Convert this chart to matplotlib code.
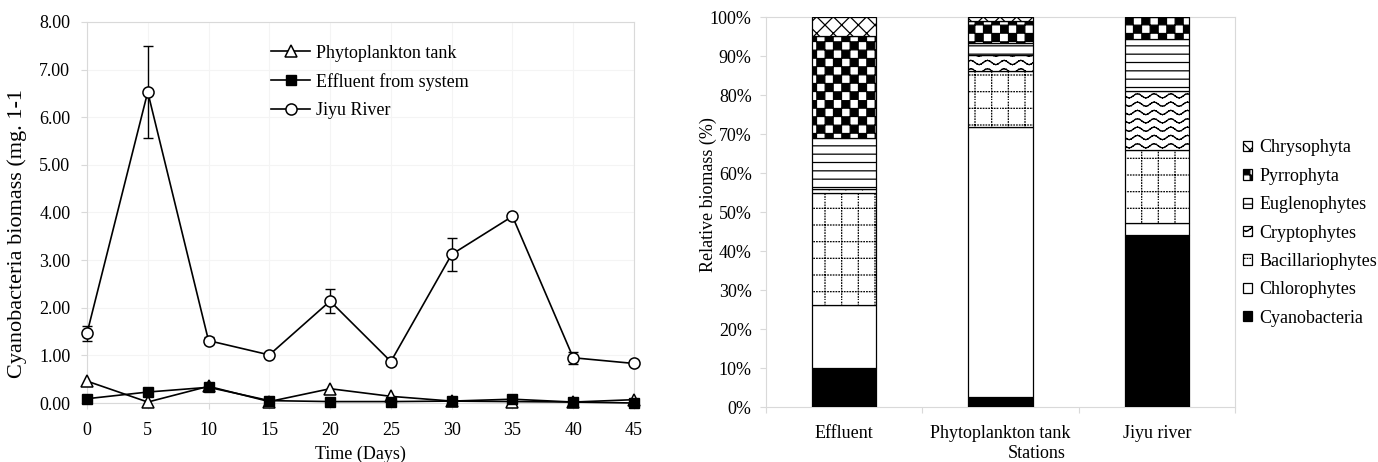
import warnings
import numpy as np
import matplotlib
matplotlib.use('Agg')
import matplotlib.pyplot as plt
from matplotlib import hatch as mhatch
from matplotlib.path import Path

warnings.filterwarnings('ignore')

# ---- left panel: cyanobacteria biomass over time
days = [0, 5, 10, 15, 20, 25, 30, 35, 40, 45]
phyto_tank = [0.46, 0.02, 0.35, 0.03, 0.30, 0.14, 0.04, 0.03, 0.02, 0.07]
effluent = [0.09, 0.23, 0.33, 0.05, 0.03, 0.03, 0.04, 0.08, 0.02, 0.00]
jiyu = [1.46, 6.53, 1.31, 1.01, 2.14, 0.87, 3.12, 3.92, 0.95, 0.83]
jiyu_err = [0.15, 0.97, 0.08, 0.04, 0.26, 0.08, 0.34, 0.03, 0.13, 0.03]

# ---- right panel: relative biomass by station (%)
stations = ['Effluent', 'Phytoplankton tank', 'Jiyu river']
groups = ['Cyanobacteria', 'Chlorophytes', 'Bacillariophytes', 'Cryptophytes',
          'Euglenophytes', 'Pyrrophyta', 'Chrysophyta']
cyanobacteria = [10.0, 2.5, 44.0]
chlorophytes = [16.2, 69.4, 3.3]
bacillariophytes = [28.8, 14.3, 18.6]
cryptophytes = [0.9, 4.1, 15.2]
euglenophytes = [13.2, 3.1, 13.2]
pyrrophyta = [26.0, 5.7, 5.7]
chrysophyta = [4.9, 0.9, 0.0]


# extra hatch patterns (excel style fills): checker, wave, dotted grid
class CheckerHatch(mhatch.HatchPatternBase):
    def __init__(self, hatch, density):
        self.cells = hatch.count('c') * 12
        self.num_vertices = (self.cells * self.cells // 2) * 5

    def set_vertices_and_codes(self, vertices, codes):
        n = self.cells
        s = 1.0 / n
        e = 0.02 * s
        sq = np.array([[e, e], [s - e, e], [s - e, s - e], [e, s - e], [e, e]])
        parts = [sq + [i * s, j * s] for i in range(n) for j in range(n) if (i + j) % 2 == 0]
        vertices[:] = np.concatenate(parts)
        c = [Path.MOVETO, Path.LINETO, Path.LINETO, Path.LINETO, Path.CLOSEPOLY]
        codes[:] = np.tile(c, len(parts))


class WaveHatch(mhatch.HatchPatternBase):
    def __init__(self, hatch, density):
        self.rows = hatch.count('w') * 12
        self.seg = 48
        self.num_vertices = self.rows * self.seg * 2

    def set_vertices_and_codes(self, vertices, codes):
        xs = np.linspace(0, 1, self.seg + 1)
        ys = 0.021 * np.sin(2 * np.pi * 6 * xs)
        segs = []
        for r in range(self.rows):
            off = (r + 0.5) / self.rows
            for k in range(self.seg):
                segs.append([[xs[k], ys[k] + off], [xs[k + 1], ys[k + 1] + off]])
        vertices[:] = np.array(segs).reshape(-1, 2)
        codes[:] = np.tile([Path.MOVETO, Path.LINETO], len(segs))


class DottedGridHatch(mhatch.HatchPatternBase):
    def __init__(self, hatch, density):
        self.lines = hatch.count('d') * 6
        self.dots = hatch.count('d') * 36
        self.num_vertices = 2 * self.lines * self.dots * 2

    def set_vertices_and_codes(self, vertices, codes):
        pos = (np.arange(self.lines) + 0.5) / max(self.lines, 1)
        t = np.arange(self.dots) / max(self.dots, 1)
        d = 0.005
        segs = []
        for p in pos:
            for q in t:
                segs.append([[q, p], [q + d, p]])
                segs.append([[p, q], [p, q + d]])
        vertices[:] = np.array(segs).reshape(-1, 2)
        codes[:] = np.tile([Path.MOVETO, Path.LINETO], len(segs))


mhatch._hatch_types.extend([CheckerHatch, WaveHatch, DottedGridHatch])

plt.rcParams['font.family'] = ['Liberation Serif', 'DejaVu Serif']
plt.rcParams['hatch.linewidth'] = 0.9
plt.rcParams['font.size'] = 13

frame = '#d9d9d9'
fs = 13

fig = plt.figure(figsize=(13.78, 4.62), dpi=100)
ax1 = fig.add_axes([0.0631, 0.1277, 0.3970, 0.8247])
ax2 = fig.add_axes([0.5559, 0.1190, 0.3403, 0.8442])

# ---- left panel
ax1.grid(True, color='#f4f4f4', lw=0.8)
ax1.set_axisbelow(True)
ax1.plot(days, phyto_tank, '-^', color='black', mfc='white', mec='black', ms=8,
         mew=1.1, lw=1.2, label='Phytoplankton tank', clip_on=False, zorder=3)
ax1.plot(days, effluent, '-s', color='black', mfc='black', ms=7, lw=1.2,
         label='Effluent from system', clip_on=False, zorder=4)
ax1.errorbar(days, jiyu, yerr=jiyu_err, fmt='none', ecolor='black', elinewidth=1.0,
             capsize=3.6, capthick=1.0, clip_on=False, zorder=5)
ax1.plot(days, jiyu, '-o', color='black', mfc='white', mec='black', ms=8, mew=1.1,
         lw=1.2, label='Jiyu River', clip_on=False, zorder=6)

ax1.set_xlim(0, 45)
ax1.set_ylim(0, 8)
ax1.set_xticks(days)
ax1.set_yticks(np.arange(0, 9, 1))
ax1.set_yticklabels([f'{v:.2f}' for v in np.arange(0, 9, 1)])
for s in ax1.spines.values():
    s.set_color(frame)
    s.set_linewidth(0.8)
ax1.tick_params(axis='both', color=frame, length=4, width=0.8, labelsize=fs)
ax1.tick_params(axis='y', pad=8)
ax1.tick_params(axis='x', pad=10)
ax1.set_xlabel('Time (Days)', fontsize=fs)
ax1.xaxis.set_label_coords(0.5, -0.113)
ax1.set_ylabel('Cyanobacteria biomass (mg. 1-1', fontsize=16, va='center')
ax1.yaxis.set_label_coords(-0.128, 0.446)
ax1.legend(loc='center left', bbox_to_anchor=(0.336, 0.843), frameon=False,
           borderpad=0, borderaxespad=0, handlelength=2.2, handletextpad=0.3,
           labelspacing=0.62, fontsize=fs)

# ---- right panel
series = [cyanobacteria, chlorophytes, bacillariophytes, cryptophytes,
          euglenophytes, pyrrophyta, chrysophyta]
facecolors = ['black', 'white', 'white', 'white', 'white', 'white', 'white']
hatches = [None, None, 'd', 'w', '--', 'c', 'xx']

x = np.arange(len(stations))
bottom = np.zeros(len(stations))
for name, vals, fc, ht in zip(groups, series, facecolors, hatches):
    ax2.bar(x, vals, 0.41, bottom=bottom, color=fc, edgecolor='black',
            hatch=ht, linewidth=0.9, label=name, zorder=3)
    bottom += np.array(vals)

ax2.set_xlim(-0.5, len(stations) - 0.5)
ax2.set_ylim(0, 100)
ax2.set_xticks(x)
ax2.set_xticklabels(stations)
ax2.set_xticks(np.arange(len(stations) + 1) - 0.5, minor=True)
ax2.set_yticks(np.arange(0, 101, 10))
ax2.set_yticklabels([f'{v}%' for v in range(0, 101, 10)])
for s in ax2.spines.values():
    s.set_color(frame)
    s.set_linewidth(0.8)
ax2.tick_params(axis='y', color=frame, length=4.3, width=0.8, pad=6, labelsize=fs)
ax2.tick_params(axis='x', which='major', length=0, pad=13, labelsize=fs)
ax2.tick_params(axis='x', which='minor', color=frame, length=4, width=0.8)
ax2.set_xlabel('Stations', fontsize=fs)
ax2.xaxis.set_label_coords(0.578, -0.097)
ax2.set_ylabel('Relative biomass (%)', fontsize=13, va='center')
ax2.yaxis.set_label_coords(-0.124, 0.544)

h, l = ax2.get_legend_handles_labels()
ax2.legend(h[::-1], l[::-1], loc='center left', bbox_to_anchor=(1.017, 0.446),
           frameon=False, borderpad=0, borderaxespad=0, handlelength=0.5,
           handleheight=0.5, handletextpad=0.4, labelspacing=0.63, fontsize=fs)

fig.savefig('out.png', dpi=100)
